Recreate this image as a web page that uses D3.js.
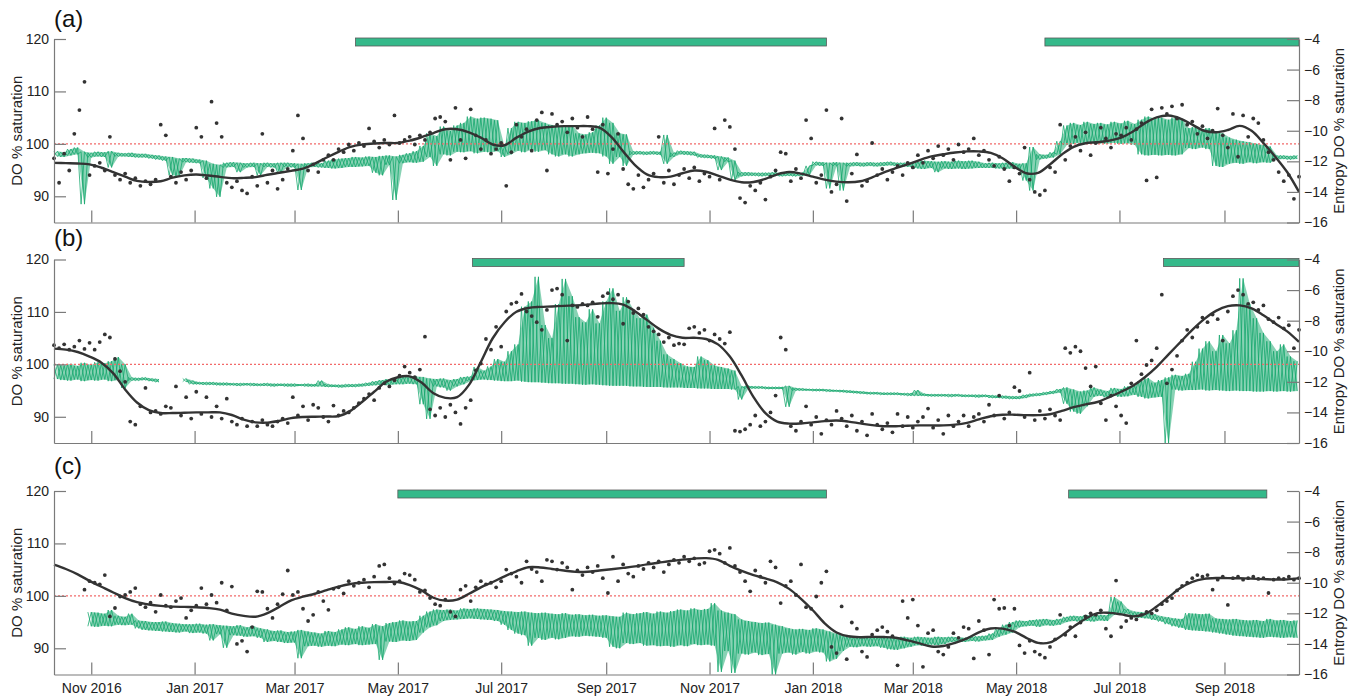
<!DOCTYPE html>
<html lang="en">
<head>
<meta charset="UTF-8" />
<title>DO % saturation and entropy</title>
<script src="https://cdn.jsdelivr.net/npm/d3@7"></script>
<style>
  body { margin: 0; background: #fff; }
  svg { font-family: "Liberation Sans", Arial, sans-serif; }
</style>
</head>
<body>
<div id="chart"></div>
<script>
// sampling: green trace every 4 days, dots every 3 days, smooth line every 7 days, all from startDate
const startDate = "2016-10-10", endDate = "2018-10-15";
const greenStep = 4, dotStep = 3, smoothStep = 7;
const panelNames = ["(a)", "(b)", "(c)"];
const doTicks = [90, 100, 110, 120];
const entropyTicks = [-16, -14, -12, -10, -8, -6, -4];
const refLine = 100;

const barsA = [["2017-04-06", "2018-01-09"], ["2018-05-18", "2018-10-15"]];
const barsB = [["2017-06-14", "2017-10-17"], ["2018-07-27", "2018-10-15"]];
const barsC = [["2017-05-01", "2018-01-09"], ["2018-06-01", "2018-09-26"]];

// DO % saturation, low / high of each 4-day window
const greenLoA = [97.6,97.5,97.8,98.0,88.5,97.4,97.6,97.5,95.5,97.6,
  97.6,97.5,97.4,97.4,97.2,97.0,96.8,94.0,93.8,96.5,
  96.4,96.3,93.5,91.5,89.9,95.5,95.6,94.6,95.5,95.6,
  94.0,95.6,95.5,94.5,95.6,95.5,91.2,95.5,95.6,95.5,
  95.4,95.3,95.4,95.6,95.6,95.7,95.8,94.5,94.0,96.0,
  89.3,96.3,96.5,96.4,96.6,97.5,95.8,98.0,97.8,98.5,
  98.4,98.6,98.2,98.5,98.4,98.6,97.5,98.0,98.7,98.4,
  98.9,98.5,98.8,98.0,97.6,98.0,97.6,98.0,98.2,98.3,
  98.2,97.6,96.2,97.5,95.8,97.9,98.0,97.9,98.0,97.9,
  96.2,97.5,98.0,97.9,97.8,97.4,97.3,97.2,95.0,96.6,
  93.1,93.8,93.9,93.9,93.8,93.9,93.9,93.8,93.9,93.8,
  93.9,94.0,95.9,95.8,91.5,95.8,91.1,95.7,95.8,95.7,
  95.8,95.7,95.8,95.9,95.8,95.7,95.6,95.3,95.2,95.4,
  94.6,95.3,95.2,95.3,95.2,95.3,95.4,95.4,95.4,95.3,
  95.2,95.3,95.2,93.0,91.1,97.0,97.2,97.4,98.0,99.8,
  100.0,100.2,100.0,100.3,100.1,100.0,100.2,100.0,100.1,99.8,
  98.0,97.8,97.9,97.8,97.9,97.8,98.0,99.2,99.0,99.3,
  99.0,95.8,95.6,96.2,96.4,96.2,96.5,96.3,96.5,96.4,
  97.0,97.1,97.0,97.1];
const greenHiA = [98.6,98.4,99.0,99.3,98.5,98.3,98.5,98.4,98.6,98.3,
  98.2,98.3,98.1,98.1,97.9,97.8,97.6,97.5,97.2,97.3,
  97.2,97.0,96.8,96.2,96.0,96.4,96.5,96.4,96.3,96.4,
  96.3,96.4,96.3,96.4,96.4,96.3,96.2,96.3,96.4,96.3,
  96.8,97.0,97.2,97.3,97.5,97.4,97.6,97.5,97.7,97.8,
  97.6,97.9,98.2,98.6,99.6,102.0,101.5,103.3,102.5,103.5,
  104.0,105.2,104.8,105.0,104.8,104.5,99.5,103.0,104.2,104.0,
  104.3,104.5,104.0,103.6,103.4,103.2,103.5,102.0,101.8,102.2,
  103.5,105.0,104.0,102.0,101.8,98.6,98.6,98.5,98.6,98.5,
  101.7,98.3,98.7,98.6,98.5,98.0,97.9,97.8,97.6,97.4,
  96.8,94.6,94.6,94.5,94.5,94.5,94.6,94.4,94.5,94.4,
  94.5,95.8,96.6,96.5,96.4,96.5,96.4,96.4,96.5,96.4,
  96.5,96.4,96.5,96.6,96.4,96.4,96.5,96.6,96.8,96.7,
  96.6,96.7,96.6,96.8,96.7,96.8,96.6,96.3,96.4,96.3,
  96.4,96.5,96.2,96.3,99.4,98.0,97.9,98.4,100.5,103.5,
  104.0,103.6,104.2,103.8,104.0,103.7,104.2,103.9,104.4,103.8,
  104.6,105.2,104.8,105.0,104.6,105.0,104.8,103.0,103.2,102.8,
  103.0,102.2,102.0,101.2,100.8,100.5,100.3,100.0,99.8,99.5,
  97.8,97.8,97.7,97.8];
// entropy of DO % saturation
const dotsA = [-11.8,-13.4,-11.5,-12.6,-10.2,-8.65,-6.8,-12.9,-12.3,-12.1,
  -12.6,-10.4,-12.9,-13.2,-12.8,-13.4,-13.1,-13.6,-13.3,-13.5,
  -13.2,-9.6,-10.3,-13.0,-13.4,-12.7,-13.2,-12.6,-9.8,-10.4,
  -13.1,-8.1,-9.5,-10.4,-13.4,-13.7,-13.3,-13.9,-14.1,-13.0,
  -13.6,-10.2,-13.4,-12.6,-13.8,-13.2,-12.5,-11.3,-9.0,-10.5,
  -12.6,-12.2,-12.7,-11.9,-11.6,-11.9,-11.2,-11.4,-10.9,-11.3,
  -10.8,-11.0,-9.85,-10.7,-11.1,-10.6,-10.9,-9.0,-10.8,-10.6,
  -10.4,-10.9,-10.3,-10.6,-10.1,-9.2,-9.1,-9.4,-11.9,-8.5,
  -10.6,-11.8,-8.6,-10.3,-11.2,-10.6,-11.5,-11.2,-10.8,-13.6,
  -11.4,-9.6,-10.4,-9.9,-11.3,-9.3,-8.8,-12.6,-8.9,-9.6,
  -9.4,-10.1,-9.2,-9.8,-10.4,-9.1,-9.9,-12.7,-9.6,-12.8,
  -11.2,-10.2,-12.5,-13.5,-13.8,-12.9,-13.7,-13.2,-12.8,-10.4,
  -13.4,-12.6,-13.5,-12.9,-12.5,-13.1,-12.4,-13.3,-12.8,-13.0,
  -9.85,-13.2,-9.3,-9.75,-11.2,-14.4,-14.7,-13.6,-13.9,-13.4,
  -14.5,-13.0,-12.6,-11.4,-11.5,-13.3,-12.5,-13.1,-9.3,-10.5,
  -13.4,-12.9,-8.65,-14.0,-13.5,-9.2,-14.6,-12.8,-11.55,-13.6,
  -13.3,-10.8,-12.9,-12.5,-13.2,-12.7,-12.3,-12.9,-12.1,-12.4,
  -11.6,-12.1,-11.3,-11.8,-11.0,-11.6,-11.2,-11.9,-10.9,-11.4,
  -11.2,-10.5,-11.6,-11.3,-11.9,-12.3,-11.7,-12.5,-13.3,-12.4,
  -12.8,-11.1,-13.2,-14.0,-14.2,-13.9,-12.4,-12.7,-9.6,-11.9,
  -11.0,-10.4,-11.3,-10.1,-11.6,-10.8,-9.8,-10.5,-11.1,-10.2,
  -10.3,-9.8,-10.6,-9.9,-9.5,-13.25,-8.6,-13.05,-8.5,-8.9,
  -8.4,-9.2,-8.3,-9.6,-9.4,-10.2,-9.7,-10.5,-10.0,-8.55,
  -10.3,-11.1,-8.9,-11.7,-9.0,-10.4,-9.2,-9.5,-10.6,-11.4,
  -11.9,-12.7,-13.3,-12.9,-14.45,-13.0];
const smoothA = [-12.1,-12.12,-12.14,-12.2,-12.42,-12.7,-13.0,-13.28,-13.35,-13.3,
  -13.07,-12.92,-12.86,-12.93,-13.02,-13.1,-13.08,-13.03,-12.88,-12.75,
  -12.62,-12.48,-12.15,-11.75,-11.38,-11.05,-10.9,-10.83,-10.8,-10.8,
  -10.65,-10.42,-10.15,-9.9,-9.9,-10.1,-10.45,-10.9,-10.95,-10.45,
  -10.05,-9.82,-9.74,-9.7,-9.7,-9.7,-9.8,-10.4,-11.35,-12.25,
  -12.85,-13.03,-13.0,-12.78,-12.6,-12.68,-12.93,-13.2,-13.37,-13.35,
  -13.15,-12.85,-12.7,-12.8,-13.0,-13.2,-13.33,-13.37,-13.3,-13.05,
  -12.72,-12.45,-12.2,-11.92,-11.68,-11.54,-11.42,-11.35,-11.35,-11.45,
  -11.8,-12.35,-12.78,-12.75,-12.2,-11.55,-11.05,-10.82,-10.75,-10.65,
  -10.45,-10.05,-9.5,-9.12,-9.0,-9.2,-9.6,-10.0,-10.1,-9.95,
  -9.68,-10.0,-10.8,-11.7,-12.7,-14.0];

const greenLoB = [97.2,97.0,96.9,97.1,96.8,97.0,96.9,97.1,96.8,97.0,
  95.5,96.9,96.9,97.0,96.8,96.6,null,null,null,96.7,
  96.2,96.2,96.1,96.1,96.0,96.0,96.0,95.9,96.0,95.9,
  95.9,95.9,95.8,95.9,95.8,95.8,95.9,95.8,95.8,95.8,
  95.7,95.7,95.6,95.7,95.7,95.8,95.9,96.0,96.1,96.0,
  96.2,96.2,96.3,96.2,92.4,89.6,95.8,95.6,95.0,95.8,
  96.2,96.8,97.0,97.1,97.0,96.9,96.8,96.8,96.9,96.7,
  96.6,96.6,96.5,96.4,96.4,96.3,96.3,96.2,96.1,96.2,
  96.1,96.0,95.9,95.9,95.9,95.8,95.8,95.7,95.7,95.7,
  95.6,95.6,95.6,95.5,95.5,95.4,95.4,95.3,95.3,95.3,
  95.2,93.3,95.4,95.4,95.4,95.3,95.3,95.3,91.9,95.0,
  95.0,95.0,94.9,94.9,94.8,94.8,94.7,94.6,94.5,94.4,
  94.3,94.3,94.2,94.2,94.2,94.1,94.0,94.0,94.0,93.9,
  93.9,93.9,93.8,93.9,93.8,93.8,93.7,93.8,93.6,93.6,
  93.5,93.4,93.4,93.6,93.9,94.0,94.2,94.4,94.6,92.5,
  91.0,90.6,92.0,93.8,94.0,93.7,94.0,93.8,93.9,94.2,
  93.8,93.5,93.7,93.8,85.0,95.2,95.0,95.1,95.1,95.2,
  95.0,95.1,95.0,94.9,95.0,94.9,94.9,94.8,94.8,94.9,
  94.8,94.9,94.8,94.9];
const greenHiB = [100.0,99.8,100.1,99.7,100.3,99.9,100.4,100.2,100.6,101.4,
  100.0,97.5,97.4,97.5,97.3,97.2,null,null,null,97.3,
  96.9,96.6,96.6,96.6,96.5,96.5,96.4,96.4,96.4,96.4,
  96.3,96.4,96.3,96.3,96.3,96.3,96.2,96.3,96.2,96.9,
  96.2,96.1,96.1,96.2,96.2,96.3,96.5,96.8,97.0,97.2,
  97.4,97.6,97.8,97.7,97.6,97.3,97.2,97.3,97.0,97.2,
  97.6,97.7,99.5,98.8,99.6,101.0,100.5,102.5,103.8,111.0,
  112.0,116.7,107.5,105.0,111.5,116.3,113.0,109.0,108.0,110.5,
  107.8,112.0,114.5,110.2,112.8,110.5,108.8,109.5,107.0,104.5,
  101.9,101.0,100.2,99.6,99.5,101.5,100.8,99.8,99.5,99.2,
  98.8,95.8,95.9,95.8,95.8,95.7,95.7,95.7,95.9,95.5,
  95.4,95.3,95.3,95.3,95.2,95.1,95.1,95.0,94.9,94.8,
  94.7,94.7,94.6,94.6,94.6,94.5,94.5,95.1,94.4,94.3,
  94.3,94.3,94.3,94.3,94.2,94.2,94.2,94.2,94.1,94.0,
  94.0,93.9,93.9,94.2,94.4,94.5,94.7,94.9,95.3,95.6,
  95.2,94.8,95.0,95.6,95.2,94.9,95.5,95.3,95.8,95.9,
  96.8,97.4,96.5,97.0,97.5,98.0,97.8,98.2,100.5,103.0,
  104.4,102.5,105.6,104.0,106.5,116.4,111.5,108.8,106.0,104.4,
  102.5,103.8,101.5,100.6];
const dotsB = [-9.6,-9.8,-9.55,-9.9,-9.7,-9.3,-9.85,-9.45,-9.9,-9.4,
  -8.9,-9.1,-10.5,-11.3,-12.0,-14.6,-14.8,-13.6,-12.4,-14.0,
  -13.9,-14.1,-13.6,-13.7,-12.3,-14.2,-13.0,-14.4,-12.65,-14.1,
  -13.0,-14.3,-13.6,-14.4,-13.1,-14.6,-14.8,-14.4,-14.9,-14.6,
  -14.9,-14.5,-14.8,-14.9,-14.6,-14.4,-14.7,-13.0,-14.2,-13.6,
  -14.5,-13.5,-13.7,-14.3,-14.6,-13.55,-14.2,-13.9,-14.0,-13.7,
  -13.4,-13.1,-12.8,-13.2,-12.4,-12.1,-12.3,-11.9,-11.6,-11.0,
  -11.4,-11.7,-11.2,-9.05,-13.8,-14.2,-13.7,-14.3,-13.5,-14.0,
  -14.75,-13.7,-13.2,-11.25,-10.8,-9.2,-9.9,-8.4,-9.7,-7.4,
  -6.9,-6.8,-6.25,-7.4,-7.7,-8.1,-8.6,-7.3,-6.0,-5.9,
  -6.3,-9.3,-7.0,-7.1,-6.9,-7.0,-6.8,-7.75,-6.4,-6.2,
  -6.6,-6.3,-8.2,-6.75,-7.5,-7.2,-7.6,-8.4,-8.7,-8.9,
  -9.4,-9.1,-9.6,-9.5,-9.55,-8.5,-8.4,-8.8,-8.6,-9.3,
  -8.9,-9.2,-9.5,-8.75,-15.2,-15.25,-15.1,-14.8,-14.2,-14.9,
  -14.6,-14.0,-12.9,-9.1,-9.9,-14.9,-15.2,-14.6,-13.6,-14.8,
  -14.3,-15.4,-14.5,-14.8,-13.9,-14.4,-14.9,-14.2,-15.2,-14.6,
  -15.5,-14.1,-14.8,-15.1,-14.7,-15.3,-14.1,-14.9,-14.3,-15.0,
  -14.6,-14.3,-13.75,-15.0,-14.5,-15.4,-14.2,-14.9,-14.6,-14.2,
  -14.9,-14.3,-14.1,-14.6,-13.5,-14.2,-12.9,-14.4,-14.0,-12.35,
  -12.6,-14.3,-11.4,-14.5,-13.9,-14.4,-13.8,-14.2,-14.5,-9.8,
  -10.1,-9.7,-10.0,-11.1,-12.3,-11.0,-13.4,-14.5,-12.9,-13.6,
  -14.2,-14.7,-12.1,-9.3,-11.5,-10.9,-10.6,-9.8,-6.3,-12.1,
  -11.2,-10.3,-9.3,-8.6,-9.1,-8.4,-7.8,-8.1,-7.6,-7.9,
  -9.3,-7.4,-6.4,-6.0,-6.3,-6.9,-6.8,-7.3,-7.0,-7.9,
  -8.1,-7.8,-8.5,-8.3,-9.8,-8.6];
const smoothB = [-9.83,-9.89,-10.05,-10.35,-10.75,-11.45,-12.5,-13.35,-13.85,-14.04,
  -14.04,-14.02,-14.0,-14.0,-14.0,-14.17,-14.47,-14.65,-14.67,-14.55,
  -14.37,-14.3,-14.28,-14.27,-14.24,-13.9,-13.3,-12.65,-12.0,-11.7,
  -11.64,-12.05,-12.75,-13.05,-13.0,-12.2,-10.7,-9.15,-8.1,-7.42,
  -7.17,-7.1,-7.07,-7.03,-7.0,-6.95,-6.88,-6.85,-6.95,-7.38,
  -7.95,-8.52,-8.93,-9.12,-9.12,-9.2,-9.55,-10.35,-11.6,-13.0,
  -14.05,-14.6,-14.73,-14.72,-14.65,-14.57,-14.53,-14.6,-14.72,-14.83,
  -14.9,-14.9,-14.87,-14.85,-14.85,-14.85,-14.8,-14.68,-14.45,-14.25,
  -14.15,-14.15,-14.18,-14.18,-14.12,-13.9,-13.66,-13.47,-13.32,-13.0,
  -12.65,-12.25,-11.7,-11.02,-10.2,-9.4,-8.6,-7.9,-7.36,-7.05,
  -7.0,-7.2,-7.65,-8.18,-8.7,-9.39];

const greenLoC = [null,null,null,null,null,94.2,94.1,94.3,94.2,94.5,
  94.4,94.5,93.8,93.5,93.4,93.3,93.2,93.1,93.0,93.2,
  92.9,93.0,92.8,91.5,92.7,90.1,92.5,92.4,92.2,92.3,
  92.0,91.2,91.4,91.2,91.0,91.1,88.1,90.4,90.5,90.3,
  90.5,90.4,90.7,90.6,90.8,90.6,90.7,90.8,87.8,91.3,
  91.2,91.5,91.4,91.6,93.0,94.0,94.4,95.2,95.4,95.5,
  95.6,95.7,95.6,95.5,95.4,95.2,94.5,93.5,92.8,92.5,
  90.5,92.0,91.6,92.0,91.7,92.0,92.3,92.2,92.4,92.3,
  92.2,92.0,90.3,90.0,91.0,90.8,91.0,90.5,90.6,90.4,
  90.5,90.3,90.6,90.4,90.8,90.6,90.7,90.5,85.5,89.5,
  85.3,89.0,88.8,89.2,88.7,88.9,85.0,89.0,89.2,88.8,
  89.3,89.0,89.4,89.2,87.5,88.0,89.5,90.3,90.2,90.4,
  90.3,90.4,90.1,89.8,89.7,90.0,90.3,90.6,90.5,90.7,
  90.6,90.8,91.2,91.3,91.2,91.4,91.3,91.5,91.6,92.2,
  92.6,93.0,94.0,94.2,94.3,94.1,94.4,94.3,94.5,95.0,
  95.2,95.1,95.2,95.1,95.3,95.2,96.4,96.5,96.6,95.9,
  95.8,95.7,95.4,95.1,94.6,94.2,93.9,93.5,93.4,93.3,
  93.2,93.0,92.8,92.6,92.4,92.3,92.2,92.1,92.0,92.2,
  92.1,92.0,92.1,92.0];
const greenHiC = [null,null,null,null,null,96.9,96.8,96.6,97.3,96.2,
  96.0,96.6,95.3,95.2,95.0,95.0,95.1,94.8,94.7,94.6,
  94.6,94.7,94.5,94.6,94.4,94.3,94.2,94.4,94.0,94.2,
  93.8,93.6,93.3,93.4,93.1,93.2,93.5,93.2,93.0,92.8,
  93.3,93.1,93.6,94.0,93.7,94.2,93.9,94.6,94.2,94.8,
  95.0,95.3,95.1,95.2,96.2,97.0,97.4,97.3,97.4,97.2,
  97.6,97.5,97.6,97.5,97.4,97.3,97.1,97.0,96.9,97.0,
  96.8,96.7,96.8,96.6,96.5,96.7,96.4,96.5,96.3,96.4,
  96.2,96.3,96.1,96.0,96.8,96.5,96.7,96.9,96.6,97.0,
  96.8,97.1,97.4,97.2,97.6,97.3,97.5,98.6,97.2,96.8,
  96.5,95.5,95.2,95.0,94.8,94.9,94.5,94.2,93.8,93.6,
  93.7,93.5,93.8,93.6,93.2,92.8,92.6,92.3,92.2,92.3,
  92.1,92.2,92.3,92.0,92.1,92.2,92.0,92.2,92.1,92.0,
  92.2,92.1,92.2,92.1,92.0,92.2,92.3,92.4,92.8,93.8,
  94.5,95.0,95.3,95.2,95.4,95.5,95.6,95.4,95.6,96.0,
  96.2,96.1,96.3,96.2,96.4,96.3,99.8,98.9,97.5,97.0,
  96.9,96.8,96.5,96.1,95.9,95.7,95.6,96.7,96.6,96.5,
  96.6,95.7,95.6,95.5,95.6,95.4,95.3,95.4,95.2,95.6,
  95.3,95.4,95.2,95.3];
const dotsC = [null,null,null,null,null,null,-10.45,-9.9,-10.0,-10.1,
  -9.5,-12.2,-11.65,-10.9,-10.8,-10.6,-10.35,-11.4,-11.6,-11.3,
  -11.9,-10.8,-11.5,-11.6,-11.2,-11.0,-12.3,-11.8,-11.5,-10.35,
  -11.4,-10.8,-11.3,-10.0,-11.8,-10.25,-14.0,-13.8,-14.5,-12.9,
  -10.56,-10.6,-11.7,-12.3,-11.4,-10.75,-9.2,-10.8,-10.6,-11.7,
  -12.5,-12.1,-10.6,-11.2,-11.77,-10.4,-10.3,-10.7,-9.9,-10.2,
  -10.0,-9.8,-10.3,-9.6,-8.9,-8.8,-9.7,-10.05,-9.9,-9.4,
  -9.5,-9.8,-10.6,-10.5,-11.0,-11.4,-11.5,-11.1,-11.9,-12.2,
  -10.45,-10.2,-11.2,-10.3,-9.9,-10.1,-10.0,-10.3,-9.9,-9.14,
  -9.4,-9.6,-10.0,-8.6,-9.1,-9.3,-9.9,-8.5,-8.6,-9.14,
  -8.7,-9.0,-10.45,-9.2,-9.5,-9.0,-9.3,-8.9,-9.7,-10.67,
  -8.3,-9.9,-8.8,-9.4,-9.6,-8.9,-9.1,-8.7,-9.0,-8.6,
  -9.3,-8.8,-8.5,-8.7,-8.3,-8.6,-8.4,-8.8,-8.7,-7.94,
  -7.85,-8.1,-8.7,-7.72,-8.9,-9.3,-9.9,-10.56,-9.2,-9.6,
  -10.0,-8.6,-9.0,-11.33,-10.2,-9.9,-10.8,-8.8,-11.6,-11.7,
  -10.9,-10.0,-9.25,-14.2,-14.6,-11.55,-15.0,-12.6,-13.0,-14.5,
  -14.85,-13.4,-13.1,-12.9,-13.2,-13.5,-15.4,-11.2,-12.3,-11.1,
  -12.8,-15.5,-13.3,-13.1,-14.5,-14.7,-14.2,-13.3,-13.6,-12.9,
  -13.0,-14.95,-12.5,-13.1,-14.7,-11.1,-11.7,-11.65,-12.8,-11.7,
  -14.1,-14.6,-13.8,-14.5,-14.7,-14.9,-14.2,-13.7,-12.1,-13.4,
  -12.9,-13.5,-12.6,-12.2,-12.0,-12.1,-11.8,-13.0,-13.5,-9.86,
  -12.9,-12.5,-12.3,-12.4,-12.1,-11.9,-12.0,-11.8,-11.4,-11.2,
  -11.0,-10.5,-10.2,-10.0,-9.7,-9.5,-9.6,-9.5,-10.45,-9.8,
  -9.6,-11.45,-9.7,-9.6,-9.8,-9.7,-9.6,-9.75,-9.7,-10.67,
  -9.8,-9.7,-9.75,-9.6,-9.8,-9.7];
const smoothC = [-8.81,-9.1,-9.45,-9.88,-10.26,-10.64,-11.0,-11.27,-11.42,-11.51,
  -11.56,-11.58,-11.6,-11.65,-11.76,-12.02,-12.17,-12.22,-11.98,-11.58,
  -11.15,-10.91,-10.72,-10.48,-10.25,-10.08,-10.0,-9.96,-9.95,-9.95,
  -10.15,-10.5,-10.98,-11.17,-11.1,-10.72,-10.3,-9.95,-9.58,-9.25,
  -8.99,-9.0,-9.1,-9.2,-9.29,-9.28,-9.2,-9.12,-9.03,-8.93,
  -8.8,-8.69,-8.58,-8.49,-8.42,-8.39,-8.5,-8.9,-9.22,-9.5,
  -9.72,-9.97,-10.4,-11.05,-11.8,-12.65,-13.25,-13.5,-13.56,-13.54,
  -13.55,-13.6,-13.77,-13.97,-14.17,-14.14,-13.93,-13.64,-13.24,-12.99,
  -13.0,-13.2,-13.6,-13.93,-13.9,-13.45,-12.87,-12.35,-11.99,-11.97,
  -12.07,-12.2,-12.05,-11.55,-10.95,-10.35,-9.95,-9.75,-9.69,-9.7,
  -9.71,-9.73,-9.76,-9.79,-9.78,-9.7];

const panels = [
  { name: panelNames[0], bars: barsA, lo: greenLoA, hi: greenHiA, dots: dotsA, smooth: smoothA },
  { name: panelNames[1], bars: barsB, lo: greenLoB, hi: greenHiB, dots: dotsB, smooth: smoothB },
  { name: panelNames[2], bars: barsC, lo: greenLoC, hi: greenHiC, dots: dotsC, smooth: smoothC }
];

// layout
const width = 1355, height = 698;
const plotLeft = 54, plotRight = 1299;
const panelTops = [39, 259.5, 491], panelHeight = 183.5;
const labelBaselines = [27, 246, 474];

const greenColor = "#11a56a", dotColor = "#333", axisColor = "#7a7a7a";
const parse = d3.utcParse("%Y-%m-%d");
const t0 = parse(startDate);

const svg = d3.select("#chart").append("svg")
  .attr("width", width)
  .attr("height", height);

const x = d3.scaleUtc()
  .domain([t0, parse(endDate)])
  .range([plotLeft, plotRight]);

panels.forEach(function (p, i) {
  const top = panelTops[i], bottom = top + panelHeight;
  const yL = d3.scaleLinear().domain([85, 120]).range([bottom, top]);
  const yR = d3.scaleLinear().domain([-16, -4]).range([bottom, top]);
  const g = svg.append("g");

  // green DO trace: faint band plus two zigzags (lo->hi and hi->lo) through each window
  const win = p.lo.map((lo, k) => lo == null ? null :
    { t: d3.utcDay.offset(t0, k * greenStep), lo: lo, hi: p.hi[k] });
  const half = d => d3.utcHour.offset(d, greenStep * 12);
  const zigA = [], zigB = [];
  win.forEach(function (w) {
    if (!w) { zigA.push(null); zigB.push(null); return; }
    zigA.push({ t: w.t, v: w.lo }, { t: half(w.t), v: w.hi });
    zigB.push({ t: w.t, v: w.hi }, { t: half(w.t), v: w.lo });
  });
  const band = d3.area()
    .defined(d => d != null)
    .x(d => x(half(d.t)))
    .y0(d => yL(d.lo))
    .y1(d => yL(d.hi));
  g.append("path")
    .attr("d", band(win))
    .attr("fill", greenColor)
    .attr("fill-opacity", 0.5);
  const greenLine = d3.line()
    .defined(d => d != null)
    .x(d => x(d.t))
    .y(d => yL(d.v));
  [zigA, zigB].forEach(function (z) {
    g.append("path")
      .attr("d", greenLine(z))
      .attr("fill", "none")
      .attr("stroke", greenColor)
      .attr("stroke-width", 0.9)
      .attr("stroke-opacity", 0.85);
  });

  // 100 % line
  g.append("line")
    .attr("x1", plotLeft).attr("x2", plotRight)
    .attr("y1", yL(refLine)).attr("y2", yL(refLine))
    .attr("stroke", "#f26a6a")
    .attr("stroke-width", 1.2)
    .attr("stroke-dasharray", "2,2");

  // entropy dots
  g.selectAll("circle")
    .data(p.dots.map((v, m) => ({ t: d3.utcDay.offset(t0, m * dotStep), v: v })).filter(d => d.v != null))
    .join("circle")
    .attr("cx", d => x(d.t))
    .attr("cy", d => yR(d.v))
    .attr("r", 1.9)
    .attr("fill", dotColor);

  // smoothed entropy
  const smoothLine = d3.line()
    .x((v, j) => x(d3.utcDay.offset(t0, j * smoothStep)))
    .y(v => yR(v))
    .curve(d3.curveCatmullRom);
  g.append("path")
    .attr("d", smoothLine(p.smooth))
    .attr("fill", "none")
    .attr("stroke", "#333")
    .attr("stroke-width", 2.4);

  // period bars
  g.selectAll("rect.bar")
    .data(p.bars)
    .join("rect")
    .attr("class", "bar")
    .attr("x", d => x(parse(d[0])))
    .attr("width", d => x(parse(d[1])) - x(parse(d[0])))
    .attr("y", top - 1)
    .attr("height", 8)
    .attr("fill", "#35b98a")
    .attr("stroke", "#5a5a5a")
    .attr("stroke-width", 0.8);

  // axes
  const left = g.append("g")
    .attr("transform", `translate(${plotLeft},0)`)
    .call(d3.axisLeft(yL).tickValues(doTicks).tickSizeInner(-12).tickSizeOuter(0).tickPadding(5));
  const right = g.append("g")
    .attr("transform", `translate(${plotRight},0)`)
    .call(d3.axisRight(yR).tickValues(entropyTicks).tickSizeInner(-12).tickSizeOuter(0).tickPadding(5));
  const bottomAxis = d3.axisBottom(x)
    .ticks(d3.utcMonth.every(2))
    .tickSizeInner(-12).tickSizeOuter(0).tickPadding(9)
    .tickFormat(i == 2 ? d3.utcFormat("%b %Y") : "");
  const bot = g.append("g")
    .attr("transform", `translate(0,${bottom})`)
    .call(bottomAxis);

  [left, right, bot].forEach(function (a) {
    a.selectAll("path, line").attr("stroke", axisColor).attr("stroke-width", 1.2);
    a.selectAll("text").attr("font-size", 14).attr("fill", "#222")
      .attr("font-family", "Liberation Sans, Arial, sans-serif");
  });

  // axis titles
  g.append("text")
    .attr("transform", `translate(22,${(top + bottom) / 2}) rotate(-90)`)
    .attr("text-anchor", "middle")
    .attr("font-size", 15)
    .attr("fill", "#222")
    .text("DO % saturation");
  g.append("text")
    .attr("transform", `translate(1344,${(top + bottom) / 2}) rotate(-90)`)
    .attr("text-anchor", "middle")
    .attr("font-size", 15)
    .attr("fill", "#222")
    .text("Entropy DO % saturation");

  g.append("text")
    .attr("x", 54)
    .attr("y", labelBaselines[i])
    .attr("font-size", 24)
    .attr("fill", "#111")
    .text(p.name);
});
</script>
</body>
</html>
